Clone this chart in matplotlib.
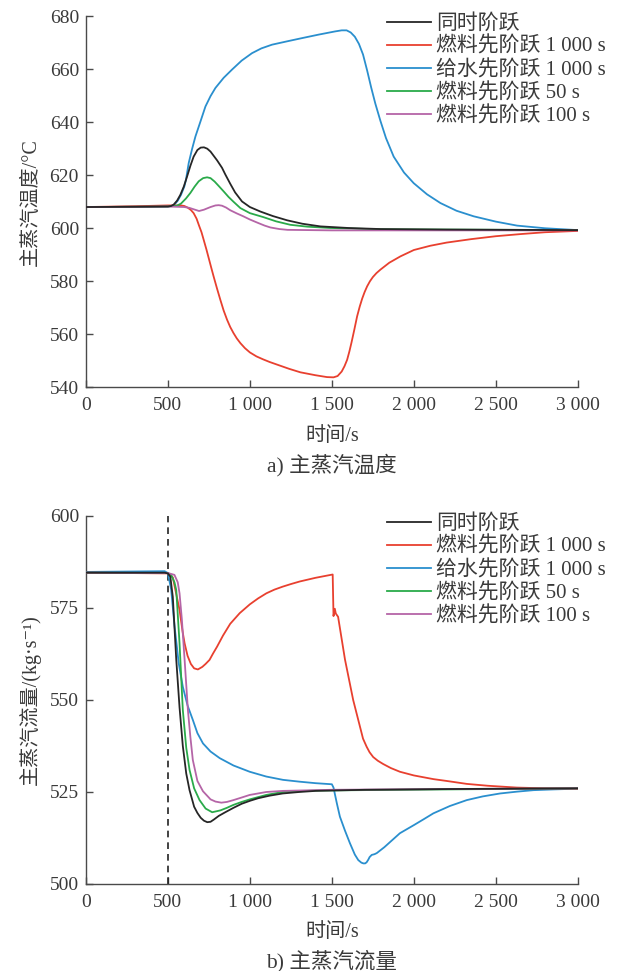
import matplotlib
matplotlib.use('Agg')
import matplotlib.pyplot as plt

plt.rcParams['font.family'] = ['Liberation Serif', 'Noto Sans CJK SC', 'DejaVu Serif']

labels = ['同时阶跃', '燃料先阶跃 1 000 s', '给水先阶跃 1 000 s',
          '燃料先阶跃 50 s', '燃料先阶跃 100 s']
colors = ['#262626', '#e8402f', '#2a8fce', '#2aaa4a', '#b565a7']

# ---- a) main steam temperature (°C) ----
t_temp_sim = [0, 300, 500, 520, 535, 556, 576, 597, 617, 637, 657, 680, 700,
              720, 740, 760, 800, 830, 850, 880, 910, 952, 1000, 1064, 1140,
              1227, 1320, 1430, 1600, 1796, 2200, 3000]
temp_sim = [608, 608.1, 608.2, 608.4, 608.9, 610.4, 612.6, 615.7, 619.5, 623.5,
            627, 629.5, 630.4, 630.5, 630, 628.9, 625.6, 622.8, 620.3, 616.8,
            613.5, 610.1, 608, 606.3, 604.6, 603, 601.7, 600.7, 600.1, 599.7,
            599.5, 599.3]

t_temp_fuel1000 = [0, 300, 500, 580, 600, 620, 640, 657, 675, 690, 705, 718,
                   735, 750, 765, 779, 800, 820, 840, 861, 880, 900, 920, 942,
                   970, 1000, 1040, 1080, 1120, 1166, 1240, 1308, 1400, 1470,
                   1510, 1535, 1560, 1577, 1593, 1607, 1620, 1637, 1654, 1670,
                   1685, 1700, 1715, 1732, 1750, 1772, 1796, 1850, 1918, 2000,
                   2100, 2200, 2350, 2500, 2650, 2800, 3000]
temp_fuel1000 = [608, 608.3, 608.6, 608.6, 608.4, 607.8, 606.9, 605.7, 603.6,
                 601, 598.5, 595.7, 592, 588.5, 585, 581.8, 577.2, 573, 569,
                 565.5, 562.8, 560.5, 558.5, 556.7, 554.8, 553.2, 551.7, 550.6,
                 549.6, 548.6, 547, 545.7, 544.6, 543.9, 543.8, 544.3, 546,
                 548, 550.4, 553.6, 557, 561.8, 566.8, 570.5, 573.5, 576,
                 578.1, 580, 581.6, 583.1, 584.4, 587, 589.4, 591.8, 593.4,
                 594.6, 595.9, 597, 597.8, 598.5, 599]

t_temp_water1000 = [0, 300, 500, 520, 540, 560, 580, 600, 610, 627, 648, 668,
                    700, 729, 760, 790, 840, 891, 950, 1013, 1070, 1135, 1230,
                    1320, 1420, 1520, 1560, 1590, 1615, 1640, 1665, 1690, 1715,
                    1740, 1765, 1796, 1830, 1877, 1940, 1999, 2080, 2162, 2260,
                    2365, 2500, 2629, 2800, 3000]
temp_water1000 = [608, 608.1, 608.2, 608.4, 608.9, 610.4, 612.6, 615.7, 618.2,
                  624.6, 630, 634.6, 640.5, 645.9, 649.8, 652.9, 656.7, 659.8,
                  663.2, 666, 667.8, 669.2, 670.5, 671.7, 673, 674.2, 674.6,
                  674.6, 673.8, 672.2, 669.5, 665.5, 659.5, 653, 647, 640.5,
                  634, 627, 621, 617, 612.8, 609.5, 606.6, 604.5, 602.5, 601,
                  600, 599.3]

t_temp_fuel50 = [0, 300, 500, 555, 580, 610, 637, 663, 688, 715, 739, 760,
                 785, 812, 840, 870, 900, 942, 1000, 1082, 1160, 1247, 1350,
                 1491, 1800, 3000]
temp_fuel50 = [608, 608.1, 608.2, 608.5, 609.3, 611.2, 613.3, 615.7, 617.7,
               618.9, 619.2, 618.9, 617.6, 615.8, 613.9, 611.8, 610, 607.6,
               605.7, 604.2, 602.6, 601.3, 600.6, 600.1, 599.6, 599.3]

t_temp_fuel100 = [0, 300, 500, 600, 630, 660, 690, 720, 760, 790, 810, 830,
                  855, 880, 920, 960, 1000, 1050, 1090, 1125, 1180, 1230, 1500,
                  2000, 3000]
temp_fuel100 = [608, 608.1, 608.2, 608, 607.7, 607.1, 606.5, 607, 608, 608.6,
                608.7, 608.5, 607.8, 606.8, 605.6, 604.5, 603.3, 602, 601,
                600.3, 599.7, 599.4, 599.2, 599.2, 599.2]

# ---- b) main steam flow (kg/s) ----
t_flow_sim = [0, 480, 500, 515, 530, 551, 571, 591, 612, 632, 660, 680, 700,
              720, 740, 760, 780, 810, 850, 900, 950, 1000, 1050, 1120, 1200,
              1300, 1400, 1700, 2200, 3000]
flow_sim = [584.6, 584.6, 584.4, 583.5, 578, 561, 548, 537.5, 530, 525.5, 521,
            519.3, 518, 517.2, 516.8, 516.9, 517.5, 518.5, 519.5, 520.7, 521.8,
            522.6, 523.3, 524, 524.6, 525, 525.3, 525.6, 525.8, 526]

t_flow_fuel1000 = [0, 500, 515, 530, 550, 571, 590, 602, 620, 640, 660, 683,
                   710, 730, 754, 775, 800, 836, 880, 938, 1000, 1050, 1101,
                   1150, 1200, 1250, 1304, 1400, 1505, 1510, 1518, 1524, 1538,
                   1580, 1630, 1670, 1690, 1712, 1730, 1752, 1780, 1813, 1860,
                   1915, 2000, 2119, 2200, 2323, 2450, 2628, 2800, 3000]
flow_fuel1000 = [584.6, 584.4, 584, 583.3, 579, 574.5, 568.5, 565.4, 562,
                 559.8, 558.6, 558.3, 559, 559.8, 560.9, 562.6, 564.5, 567.5,
                 570.7, 573.6, 576, 577.6, 579, 580, 580.8, 581.5, 582.2,
                 583.2, 584.1, 572.8, 574.8, 573.5, 572.6, 561, 550, 543,
                 539.5, 537.3, 535.8, 534.5, 533.5, 532.6, 531.5, 530.5, 529.5,
                 528.5, 528, 527.2, 526.7, 526.2, 526, 525.9]

t_flow_water1000 = [0, 480, 500, 520, 541, 566, 591, 620, 652, 680, 714, 760,
                    816, 900, 999, 1100, 1202, 1304, 1400, 1500, 1510, 1530,
                    1549, 1580, 1610, 1640, 1661, 1680, 1692, 1703, 1712, 1722,
                    1730, 1743, 1760, 1774, 1820, 1870, 1915, 2000, 2060, 2119,
                    2220, 2323, 2420, 2526, 2630, 2730, 2850, 3000]
flow_water1000 = [584.8, 585, 584.5, 580, 569.9, 560, 553.6, 548.5, 544.6,
                  541, 538.2, 536, 534.2, 532.2, 530.5, 529.2, 528.3, 527.8,
                  527.4, 527.1, 526.2, 522, 518.3, 514.5, 511.1, 508, 506.5,
                  505.8, 505.6, 505.6, 505.9, 506.6, 507.3, 507.9, 508.1,
                  508.4, 510, 512, 513.8, 516, 517.6, 519.2, 521.2, 522.8,
                  523.8, 524.6, 525.1, 525.5, 525.7, 525.9]

t_flow_fuel50 = [0, 500, 520, 540, 551, 571, 591, 612, 632, 660, 693, 730,
                 770, 820, 860, 900, 950, 1000, 1100, 1200, 1400, 3000]
flow_fuel50 = [584.6, 584.5, 584, 582, 579.9, 565.4, 547.3, 537, 531, 526,
               522.8, 520.5, 519.5, 520, 520.7, 521.5, 522.3, 523, 524.2, 525,
               525.4, 526]

t_flow_fuel100 = [0, 500, 540, 560, 571, 585, 602, 622, 637, 652, 680, 714,
                  760, 790, 826, 860, 900, 950, 999, 1100, 1202, 1500, 3000]
flow_fuel100 = [584.6, 584.5, 584, 582, 579, 572, 560.9, 547.3, 540, 533.7,
                528, 525.2, 523, 522.4, 522.1, 522.3, 522.8, 523.5, 524.2, 525,
                525.3, 525.6, 526]

xticks = [0, 500, 1000, 1500, 2000, 2500, 3000]
xticklabels = ['0', '500', '1 000', '1 500', '2 000', '2 500', '3 000']
temp_ticks = [540, 560, 580, 600, 620, 640, 660, 680]
flow_ticks = [500, 525, 550, 575, 600]
step_time = 500

text_color = '#3a3a3a'
spine_color = '#4a4a4a'

fig = plt.figure(figsize=(6.18, 9.71), dpi=100)
ax1 = fig.add_axes([0.139, 0.601, 0.796, 0.3825])
ax2 = fig.add_axes([0.139, 0.0896, 0.796, 0.379])

temp_series = [(t_temp_sim, temp_sim), (t_temp_fuel1000, temp_fuel1000),
               (t_temp_water1000, temp_water1000), (t_temp_fuel50, temp_fuel50),
               (t_temp_fuel100, temp_fuel100)]
flow_series = [(t_flow_sim, flow_sim), (t_flow_fuel1000, flow_fuel1000),
               (t_flow_water1000, flow_water1000), (t_flow_fuel50, flow_fuel50),
               (t_flow_fuel100, flow_fuel100)]

# draw order: keep black on top in the flat tails
order = [2, 1, 3, 4, 0]
for i in order:
    ax1.plot(*temp_series[i], color=colors[i], lw=1.3, label=labels[i], zorder=3 + (i == 0))
    ax2.plot(*flow_series[i], color=colors[i], lw=1.3, label=labels[i], zorder=3 + (i == 0))

ax2.axvline(step_time, color='#222222', lw=1.2, ls=(0, (4, 3)), zorder=2)

for ax, yt, ylabel, cap in [
        (ax1, temp_ticks, '主蒸汽温度/°C', 'a) 主蒸汽温度'),
        (ax2, flow_ticks, '主蒸汽流量/(kg·s⁻¹)', 'b) 主蒸汽流量')]:
    ax.set_xlim(0, 3000)
    ax.set_ylim(yt[0], yt[-1])
    ax.set_xticks(xticks)
    ax.set_xticklabels(xticklabels)
    ax.set_yticks(yt)
    ax.spines['top'].set_visible(False)
    ax.spines['right'].set_visible(False)
    for s in ['left', 'bottom']:
        ax.spines[s].set_color(spine_color)
        ax.spines[s].set_linewidth(1.0)
    ax.tick_params(direction='in', length=5, width=1.0, color=spine_color,
                   labelsize=14, labelcolor=text_color, pad=5)
    ax.tick_params(axis='x', pad=7)
    ax.set_xlabel('时间/s', fontsize=14.5, color=text_color, labelpad=9)
    ax.set_ylabel(ylabel, fontsize=14.5, color=text_color, labelpad=6)
    ax.text(0.5, -0.21, cap, transform=ax.transAxes, ha='center', va='center',
            fontsize=15.5, color=text_color)
    handles, labs = ax.get_legend_handles_labels()
    idx = [labs.index(l) for l in labels]
    leg = ax.legend([handles[k] for k in idx], [labs[k] for k in idx],
                    loc='upper left', bbox_to_anchor=(0.612, 1.005), frameon=False,
                    fontsize=15, handlelength=2.1, handletextpad=0.25,
                    labelspacing=0.14, borderpad=0, borderaxespad=0)
    for txt in leg.get_texts():
        txt.set_color(text_color)

fig.savefig('out.png', dpi=100, facecolor='white')
